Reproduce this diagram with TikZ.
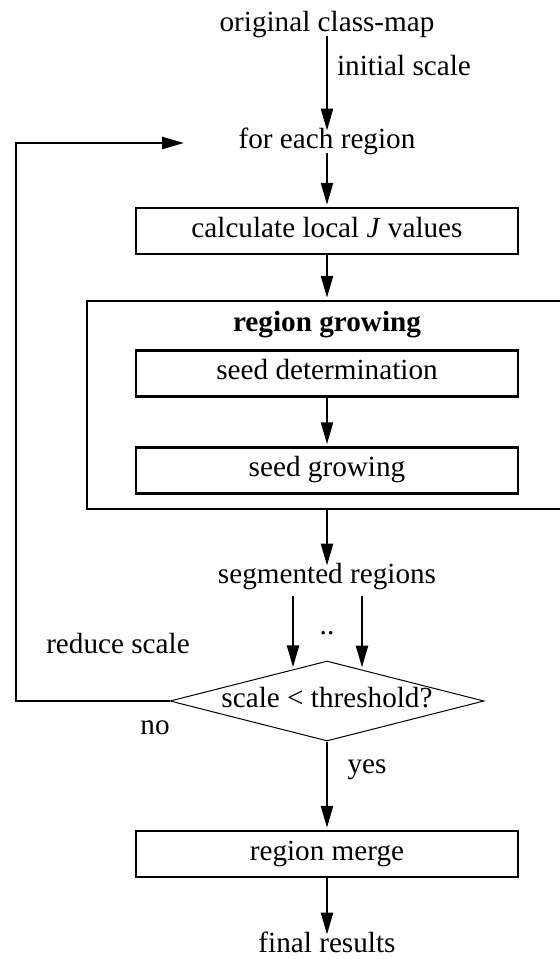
\documentclass[tikz,border=0pt]{standalone}
\usepackage{fontspec}
\setmainfont{Liberation Serif}
\usepackage{tikz}
\usetikzlibrary{arrows.meta}
\usetikzlibrary{shapes.geometric}

\tikzset{
  lbl/.style={inner sep=0pt,text height=0.75em,text depth=0.25em},
  stage/.style={draw,line width=1.25pt,inner sep=0pt,text height=0.8em,text depth=0.2em,minimum width=191pt,minimum height=23pt},
  check/.style={draw,diamond,line width=0.5pt,aspect=3.9,inner xsep=-3pt,inner ysep=0pt,text height=0.8em,text depth=0.2em,minimum width=157pt,minimum height=40pt},
  flow/.style={-{Triangle[length=11pt,width=6pt]},line width=1.2pt}
}

\begin{document}
\begin{tikzpicture}[x=0.5pt,y=-0.5pt,shorten >=1pt,font=\fontsize{14.6pt}{17pt}\selectfont]
   \useasboundingbox (0,0) rectangle (559,959);
   \node[lbl] (orig) at (327,26) {original class-map};
   \node[lbl] (each) at (327,143) {for each region};
   \node[stage] (calc) at (327,231) {calculate local \textit{J} values};
   \node[draw,line width=1.25pt,minimum width=240pt,minimum height=104pt,inner sep=0pt] (grow) at (327,405) {};
   \node[lbl] (growtitle) at (327,326) {\textbf{region growing}};
   \node[stage] (seed) at (327,373.5) {seed determination};
   \node[stage] (spread) at (327,470.5) {seed growing};
   \node[lbl] (seg) at (327,578) {segmented regions};
   \node[lbl] (dots) at (327,629) {..};
   \node[check] (test) at (327,701) {scale < threshold?};
   \node[stage] (merge) at (327,854) {region merge};
   \node[lbl] (final) at (327,947) {final results};
   \node[lbl] (init) at (404,70) {initial scale};
   \node[lbl] (reduce) at (118,648) {reduce scale};
   \node[lbl] (no) at (155,729) {no};
   \node[lbl] (yes) at (367,768) {yes};
   \coordinate (corner) at (16,143);
   \coordinate (loopin) at (186,143);
   \coordinate (segl) at ([xshift=-17pt]seg.south);
   \coordinate (segr) at ([xshift=17.5pt]seg.south);
    \path[flow]
    (orig) edge (each)
    (each) edge (calc)
    (calc) edge (calc |- grow.north)
    (seed) edge (spread)
    (grow.south) edge (seg)
    (test) edge (merge)
    (merge) edge (final);
   \draw[flow,shorten <=4pt] (segl) -- (segl |- test.137);
   \draw[flow,shorten <=4pt] (segr) -- (segr |- test.42);
   \draw[flow] (test.west) -| (corner) -- (loopin);
\end{tikzpicture}
\end{document}
